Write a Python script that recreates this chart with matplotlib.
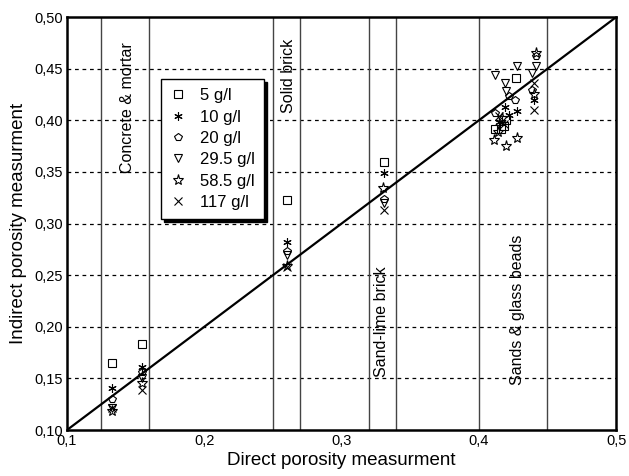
import matplotlib
matplotlib.use("Agg")
import matplotlib.pyplot as plt

plt.rcParams['font.family'] = ['Liberation Sans', 'DejaVu Sans']

# salt concentrations and their markers
series_labels = ['5 g/l', '10 g/l', '20 g/l', '29.5 g/l', '58.5 g/l', '117 g/l']
series_markers = ['s', (6, 2, 0), 'p', 'v', '*', 'x']

# (direct, indirect) porosity pairs per concentration
x_5 = [0.133, 0.155, 0.260, 0.331, 0.427, 0.412, 0.416, 0.420, 0.418]
y_5 = [0.165, 0.183, 0.323, 0.360, 0.441, 0.392, 0.392, 0.400, 0.395]

x_10 = [0.133, 0.155, 0.260, 0.331, 0.440, 0.428, 0.419, 0.415, 0.422]
y_10 = [0.141, 0.161, 0.282, 0.349, 0.420, 0.409, 0.413, 0.398, 0.405]

x_20 = [0.133, 0.155, 0.260, 0.331, 0.442, 0.439, 0.426, 0.412, 0.422]
y_20 = [0.130, 0.156, 0.273, 0.324, 0.462, 0.429, 0.420, 0.407, 0.424]

x_29 = [0.133, 0.155, 0.260, 0.331, 0.442, 0.428, 0.412, 0.439, 0.419, 0.420]
y_29 = [0.121, 0.150, 0.270, 0.320, 0.453, 0.453, 0.444, 0.446, 0.436, 0.428]

x_58 = [0.133, 0.155, 0.260, 0.330, 0.442, 0.440, 0.411, 0.428, 0.420, 0.417, 0.414]
y_58 = [0.118, 0.146, 0.259, 0.334, 0.465, 0.426, 0.381, 0.383, 0.375, 0.402, 0.389]

x_117 = [0.133, 0.155, 0.260, 0.331, 0.440, 0.440, 0.418, 0.415]
y_117 = [0.121, 0.139, 0.258, 0.313, 0.436, 0.410, 0.396, 0.404]

xs = [x_5, x_10, x_20, x_29, x_58, x_117]
ys = [y_5, y_10, y_20, y_29, y_58, y_117]

# material class boundaries (direct porosity)
bounds = [0.125, 0.16, 0.25, 0.27, 0.32, 0.34, 0.40, 0.45]
materials = ['Concrete & mortar', 'Solid brick', 'Sand-lime brick', 'Sands & glass beads']
mat_x = [0.1444, 0.261, 0.3288, 0.428]
mat_y = [0.412, 0.443, 0.2046, 0.216]

xticks = [0.1, 0.2, 0.3, 0.4, 0.5]
yticks = [0.10, 0.15, 0.20, 0.25, 0.30, 0.35, 0.40, 0.45, 0.50]

fig = plt.figure(figsize=(6.29, 4.76), dpi=100)
ax = fig.add_axes([0.1065, 0.0966, 0.873, 0.8674])

for y in yticks[1:-1]:
    ax.axhline(y, color='black', lw=0.9, ls=(0, (3, 3)), zorder=1)
for b in bounds:
    ax.axvline(b, color='#444444', lw=1.0, zorder=1)

ax.plot([0.1, 0.5], [0.1, 0.5], color='black', lw=1.6, zorder=2)

for xv, yv, lab, m in zip(xs, ys, series_labels, series_markers):
    ms = 8 if m == '*' else 6
    ax.plot(xv, yv, ls='none', marker=m, ms=ms, mfc='none', mec='black',
            mew=0.8, color='black', label=lab, zorder=3)

for txt, tx, ty in zip(materials, mat_x, mat_y):
    ax.text(tx, ty, txt, rotation=90, ha='center', va='center', fontsize=11.5)

ax.set_xlim(0.1, 0.5)
ax.set_ylim(0.1, 0.5)
ax.set_xticks(xticks)
ax.set_xticklabels([f'{v:.1f}'.replace('.', ',') for v in xticks])
ax.set_yticks(yticks)
ax.set_yticklabels([f'{v:.2f}'.replace('.', ',') for v in yticks])
ax.tick_params(axis='x', length=0, labelsize=10.5, pad=3)
ax.tick_params(axis='y', length=0, labelsize=10.5, pad=3)
for s in ax.spines.values():
    s.set_linewidth(1.8)

ax.set_xlabel('Direct porosity measurment', fontsize=13.5, labelpad=3)
ax.set_ylabel('Indirect porosity measurment', fontsize=13.5, labelpad=5)

leg = ax.legend(loc='upper left', bbox_to_anchor=(0.171, 0.85), fontsize=12,
                frameon=True, fancybox=False,
                shadow={'color': 'black', 'alpha': 1.0}, edgecolor='black',
                framealpha=1, borderpad=0.55, labelspacing=0.38, handletextpad=0.78,
                handlelength=1.0, borderaxespad=0)
leg.get_frame().set_linewidth(1.0)
leg.set_zorder(5)

fig.savefig('out.png', dpi=100)
